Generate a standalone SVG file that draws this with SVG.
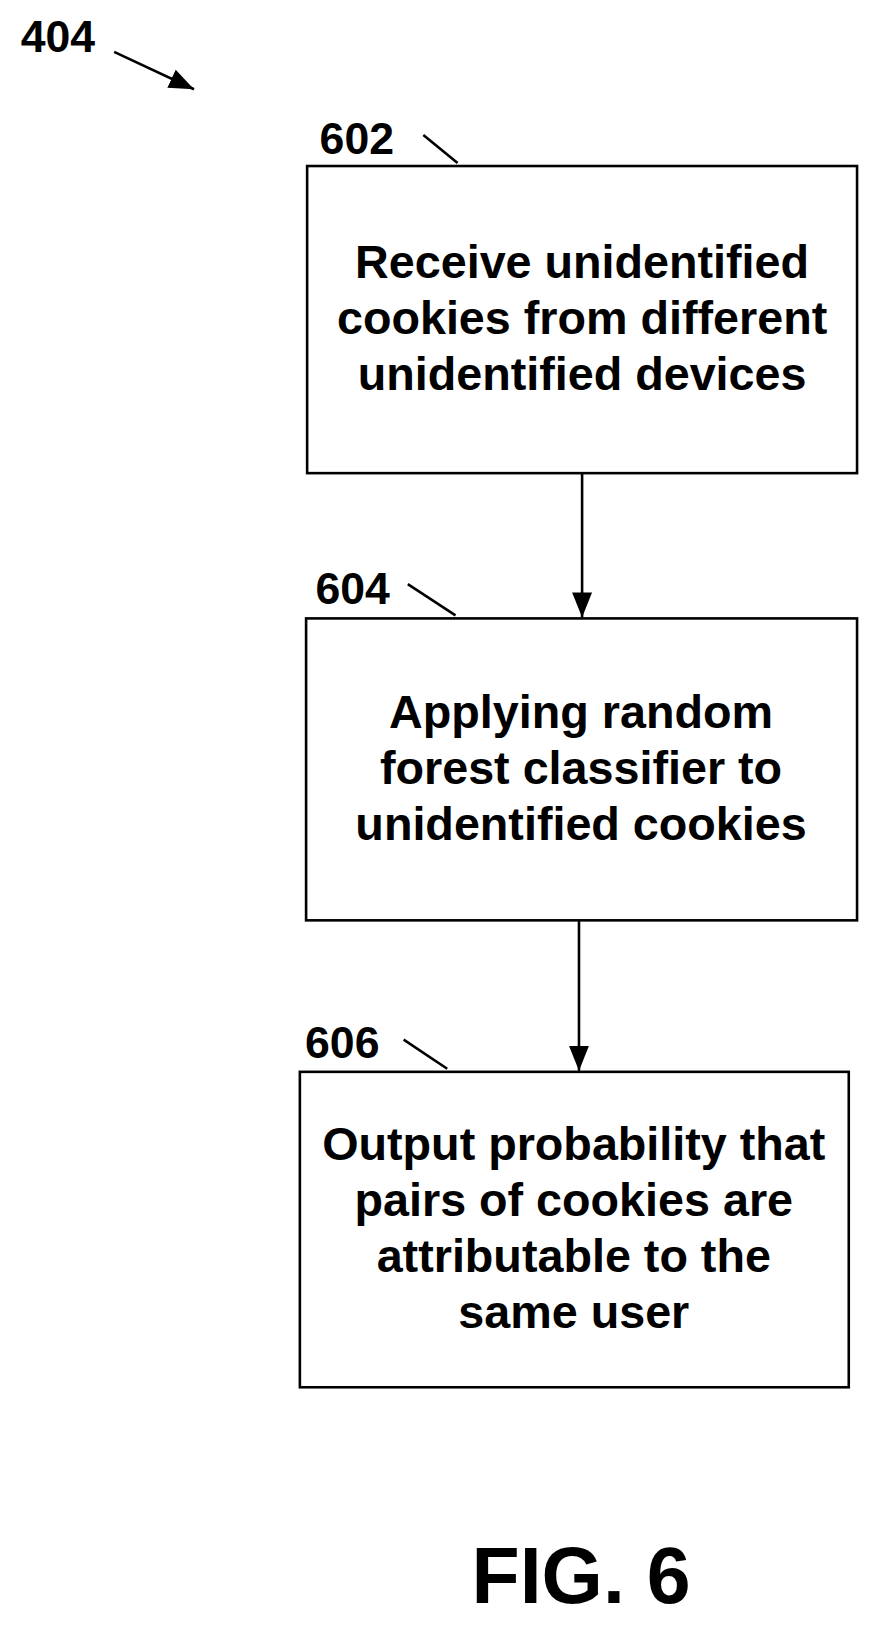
<svg xmlns="http://www.w3.org/2000/svg" width="882" height="1632" viewBox="0 0 882 1632">
<style>
text{font-family:"Liberation Sans",Arial,sans-serif;font-weight:bold;fill:#000}
.b{fill:#fff;stroke:#000;stroke-width:2.5}
.t{font-size:45px;text-anchor:middle}
.l{font-size:43px}
.c{stroke:#000;stroke-width:2.5;fill:none}
</style>
<defs>
<marker id="m" markerWidth="24" markerHeight="30" refX="30" refY="12" orient="auto" markerUnits="userSpaceOnUse" viewBox="0 0 30 24"><path d="M0,0L30,12L0,24z"/></marker></defs>
<g transform="scale(1.0376)">
<g id="ref404"><text class="l" x="20" y="50">404</text><line class="c" x1="110" y1="50" x2="187" y2="86" marker-end="url(#m)"/></g>
<g id="n602"><text class="l" x="308" y="148">602</text><line class="c" x1="408" y1="130" x2="441" y2="157"/>
<rect class="b" x="296" y="160" width="530" height="296"/>
<text class="t" x="561" y="268">Receive unidentified</text><text class="t" x="561" y="322">cookies from different</text><text class="t" x="561" y="376">unidentified devices</text></g>
<g id="n604"><text class="l" x="304" y="582">604</text><line class="c" x1="393" y1="563" x2="439" y2="593"/>
<rect class="b" x="295" y="596" width="531" height="291"/>
<text class="t" x="560" y="702">Applying random</text><text class="t" x="560" y="756">forest classifier to</text><text class="t" x="560" y="810">unidentified cookies</text></g>
<g id="n606"><text class="l" x="294" y="1020">606</text><line class="c" x1="389" y1="1002" x2="431" y2="1030"/>
<rect class="b" x="289" y="1033" width="529" height="304"/>
<text class="t" x="553" y="1118">Output probability that</text><text class="t" x="553" y="1172">pairs of cookies are</text><text class="t" x="553" y="1226">attributable to the</text><text class="t" x="553" y="1280">same user</text></g>
<g id="connectors">
<line class="c" x1="561" y1="456" x2="561" y2="595" marker-end="url(#m)"/>
<line class="c" x1="558" y1="887" x2="558" y2="1032" marker-end="url(#m)"/>
</g>
<text x="560" y="1545" style="font-size:76px;text-anchor:middle">FIG. 6</text>
</g>
</svg>
